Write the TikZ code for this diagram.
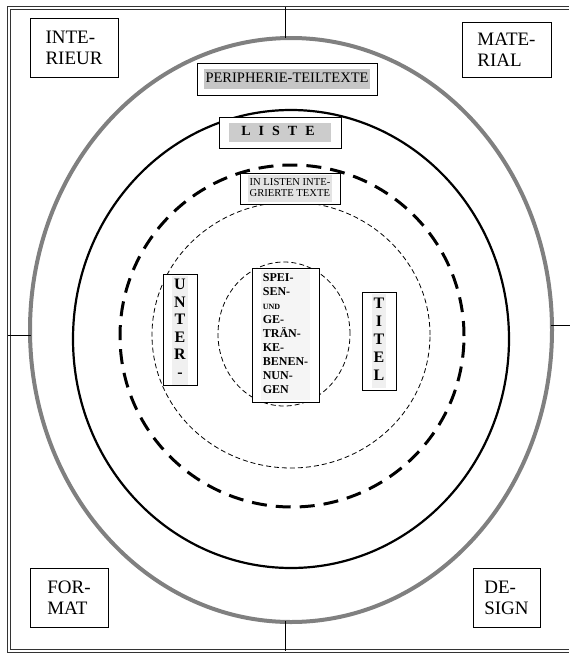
\documentclass[tikz,border=0pt]{standalone}
\usepackage{fontspec}
\setmainfont{Liberation Serif}
\usetikzlibrary{positioning}

\newcommand{\greyback}[2]{{\setlength{\fboxsep}{2pt}\colorbox{#1}{#2}}}

\begin{document}
\begin{tikzpicture}[x=1pt, y=-1pt,
    corner/.style={draw, thin, rectangle, align=left, font=\fontsize{19}{21}\selectfont},
    tag/.style={draw, thin, rectangle, fill=white, align=center, inner sep=1pt},
    column/.style={draw, thin, rectangle, fill=white, align=center, inner sep=1pt, font=\bfseries\fontsize{16}{17.5}\selectfont},
    ring/.style={line width=2.2pt},
    dashring/.style={line width=0.8pt, dash pattern=on 5pt off 3pt},
    edge line/.style={line width=1pt, black!80}
]
\useasboundingbox (0,0) rectangle (570,653);

% frame and axes
\coordinate (ntop) at (285,7);
\coordinate (nbot) at (285,651);
\coordinate (wleft) at (8,335);
\coordinate (eright) at (570,325);
\draw[edge line] (569,6) -- (7,6) -- (7,652) -- (569,652);
\draw[edge line] (569,9) -- (10,9) -- (10,649) -- (569,649);

% rings
\draw[line width=4pt, black!50] (291,330) ellipse [x radius=261pt, y radius=292pt];
\draw[ring] (291,339) ellipse [x radius=218pt, y radius=229pt];
\draw[line width=3pt, dash pattern=on 15pt off 9pt] (292,336) ellipse [x radius=172pt, y radius=171pt];
\draw[dashring] (291,335) ellipse [x radius=139pt, y radius=133pt];
\draw[dashring] (284,334) ellipse [x radius=66pt, y radius=72pt];

\draw (ntop) -- (285,38);
\draw (285,621) -- (nbot);
\draw (wleft) -- (31,335);
\draw (551,325) -- (eright);

% corner labels
\node[corner, minimum width=88pt, minimum height=59pt] (inter) at (74,47.5) {INTE-\\RIEUR};
\node[corner, minimum width=89pt, minimum height=55pt] (mater) at (506.5,49.5) {MATE-\\RIAL};
\node[corner, minimum width=78pt, minimum height=59pt] (format) at (69,597.5) {FOR-\\MAT};
\node[corner, minimum width=67pt, minimum height=59pt] (design) at (506.5,597.5) {DE-\\SIGN};

% ring labels
\node[tag, minimum width=180pt, minimum height=32pt, font=\fontsize{14.5}{16}\selectfont] (peri) at (287,79)
  {\greyback{gray!45}{\strut PERIPHERIE-TEILTEXTE}};
\node[tag, minimum width=122pt, minimum height=31pt, font=\bfseries\fontsize{14}{15}\selectfont] (liste) at (280,132.5)
  {\greyback{gray!40}{\strut\hspace{10pt}L\hspace{8pt}I\hspace{8pt}S\hspace{8pt}T\hspace{8pt}E\hspace{14pt}}};
\node[tag, minimum width=100pt, minimum height=31pt, font=\fontsize{10.6}{11.5}\selectfont] (integ) at (290,188.5)
  {\greyback{gray!22}{\begin{tabular}{@{}l@{}}IN LISTEN INTE-\\GRIERTE TEXTE\end{tabular}}};

% inner columns
\node[column, minimum width=34pt, minimum height=100pt] (unter) at (180,330)
  {\greyback{gray!12}{\begin{tabular}{@{}c@{}}U\\N\\T\\E\\R\\-\end{tabular}}};
\node[column, minimum width=34pt, minimum height=98pt, font=\bfseries\fontsize{16}{18}\selectfont] (titel) at (379,341)
  {\greyback{gray!12}{\begin{tabular}{@{}c@{}}T\\I\\T\\E\\L\end{tabular}}};
\node[column, minimum width=67pt, minimum height=134pt, font=\bfseries\fontsize{12}{14}\selectfont] (speis) at (285.5,335)
  {\greyback{gray!8}{\begin{tabular}{@{}l@{}}SPEI-\\SEN-\\{\footnotesize UND}\\GE-\\TRÄN-\\KE-\\BENEN-\\NUN-\\GEN\end{tabular}}};
\end{tikzpicture}
\end{document}
